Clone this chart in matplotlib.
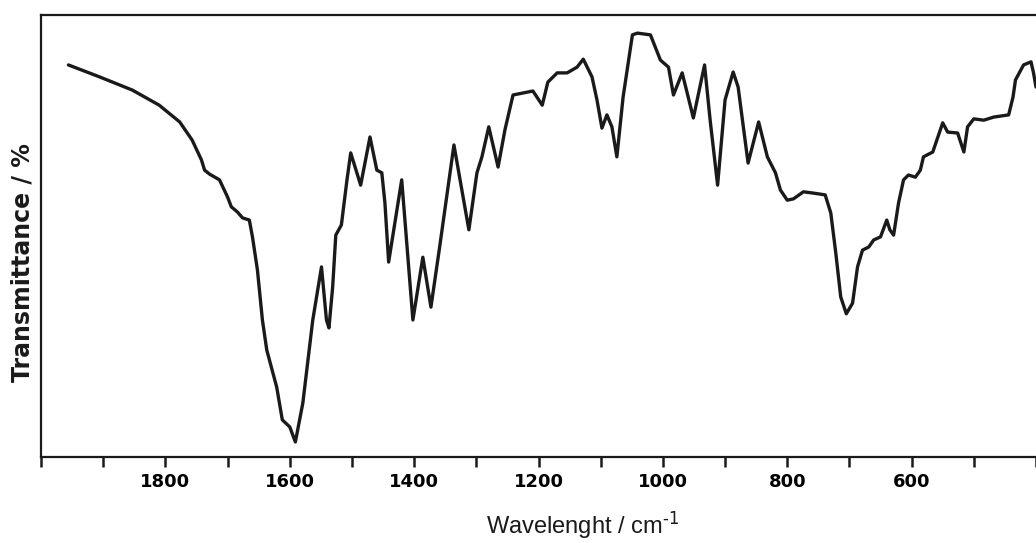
import numpy as np
import matplotlib
matplotlib.use("Agg")
import matplotlib.pyplot as plt
from matplotlib.ticker import MultipleLocator

plt.rcParams['font.family'] = ['Liberation Sans', 'DejaVu Sans']
plt.rcParams['mathtext.default'] = 'regular'

# IR spectrum: wavenumber (cm-1) vs transmittance (% of frame height)
wavenumber = [1956, 1906, 1853, 1810, 1777, 1757, 1742, 1737, 1729, 1713,
              1700, 1694, 1684, 1676, 1665, 1660, 1652, 1644, 1637, 1621,
              1612, 1600, 1591, 1579, 1563, 1549, 1541, 1537, 1531, 1526,
              1517, 1508, 1502, 1486, 1471, 1460, 1452, 1447, 1441, 1420,
              1402, 1386, 1373, 1359, 1336, 1312, 1299, 1291, 1280, 1265,
              1254, 1241, 1209, 1194, 1185, 1170, 1154, 1138, 1128, 1114,
              1106, 1098, 1090, 1082, 1074, 1064, 1049, 1041, 1020, 1004,
              991, 983, 969, 961, 951, 933, 924, 912, 900, 887,
              879, 863, 846, 832, 819, 811, 800, 790, 774, 758,
              739, 730, 722, 714, 705, 695, 687, 679, 669, 661,
              650, 640, 635, 629, 621, 613, 605, 594, 586, 581,
              566, 550, 542, 526, 516, 510, 500, 484, 468, 444,
              437, 433, 420, 408, 404, 400]
transmittance = [88.7, 86.0, 83.0, 79.6, 75.8, 71.7, 67.2, 64.9, 64.0, 62.7,
                 58.8, 56.6, 55.4, 54.1, 53.6, 49.8, 42.3, 31.0, 24.2, 15.8,
                 8.4, 6.8, 3.4, 12.2, 31.0, 43.0, 31.0, 29.2, 38.5, 50.2,
                 52.5, 62.7, 68.8, 61.5, 72.4, 64.9, 64.3, 57.5, 44.1, 62.7,
                 31.0, 45.2, 33.9, 47.5, 70.6, 51.4, 64.3, 67.9, 74.7, 65.6,
                 74.0, 81.9, 82.8, 79.6, 84.8, 86.9, 86.9, 88.2, 90.0, 86.0,
                 80.8, 74.4, 77.4, 74.7, 67.9, 81.4, 95.5, 95.9, 95.5, 89.8,
                 88.2, 81.9, 86.9, 82.4, 76.7, 88.7, 76.2, 61.5, 80.8, 87.1,
                 83.7, 66.5, 75.8, 67.9, 64.3, 60.4, 58.1, 58.4, 60.0, 59.7,
                 59.3, 55.2, 46.2, 36.2, 32.4, 34.8, 43.0, 46.8, 47.5, 49.1,
                 49.8, 53.6, 51.4, 50.2, 57.5, 62.7, 63.8, 63.3, 64.9, 67.9,
                 69.0, 75.6, 73.5, 73.3, 69.0, 74.7, 76.5, 76.2, 76.9, 77.4,
                 81.4, 85.3, 88.7, 89.4, 86.9, 83.7]

major_ticks = [1800, 1600, 1400, 1200, 1000, 800, 600]

fig = plt.figure(figsize=(10.36, 5.43), dpi=100)
ax = fig.add_axes([0.0396, 0.1584, 0.9604, 0.814])

ax.plot(wavenumber, transmittance, color='#1a1a1a', lw=2.4,
        solid_capstyle='round', solid_joinstyle='round')

ax.set_xlim(2000, 400)
ax.set_ylim(0, 100)

ax.set_xticks(major_ticks)
ax.set_xticklabels([str(t) for t in major_ticks], fontweight='bold', fontsize=13,
                   family='DejaVu Sans')
ax.xaxis.set_minor_locator(MultipleLocator(100))
ax.tick_params(axis='x', which='both', direction='out', length=7.5, width=1.8,
               color='#1a1a1a', pad=4)
ax.set_yticks([])

for side in ['left', 'top', 'bottom']:
    ax.spines[side].set_linewidth(1.6)
    ax.spines[side].set_color('#1a1a1a')
ax.spines['right'].set_visible(False)

fig.text(0.022, 0.517, "Transmittance / %", rotation=90, ha='center', va='center',
         fontsize=17, fontweight='bold', family='DejaVu Sans', color='#1a1a1a')
fig.text(0.562, 0.018, r"Wavelenght / cm$^{\text{-1}}$", ha='center', va='baseline',
         fontsize=17, color='#1a1a1a')

plt.savefig("out.png", dpi=100)
